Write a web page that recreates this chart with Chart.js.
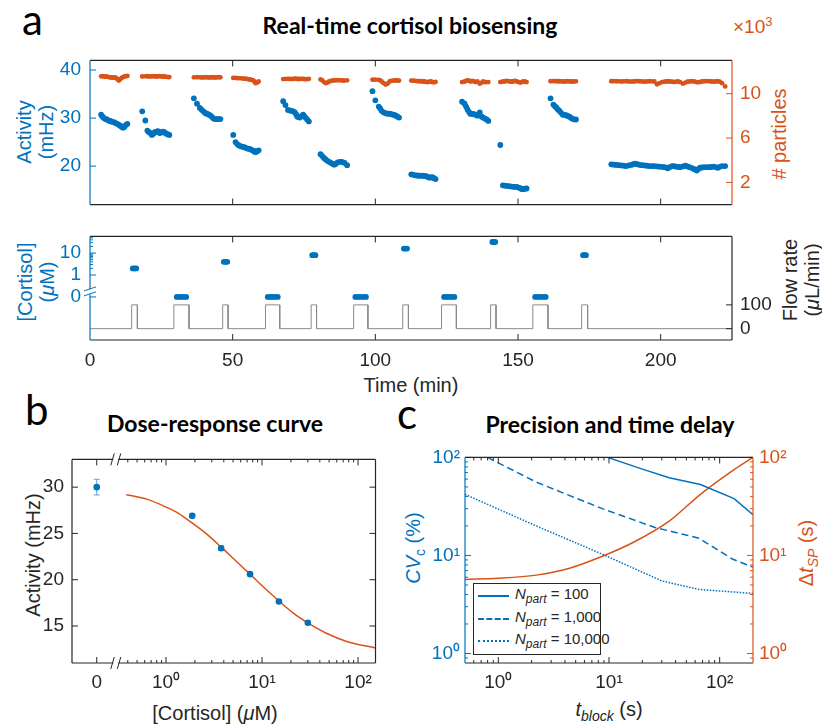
<!DOCTYPE html>
<html>
<head>
<meta charset="utf-8">
<script src="https://cdn.jsdelivr.net/npm/chart.js@4.4.1/dist/chart.umd.min.js"></script>
<style>
  body { margin: 0; background: #fff; }
  #fig { position: relative; width: 822px; height: 728px; overflow: hidden;
         font-family: "Liberation Sans", Arial, sans-serif; color: #262626; }
  canvas { position: absolute; }
  .t { position: absolute; white-space: nowrap; }
  .ttl { font-family: Lato, "Open Sans", sans-serif; font-weight: bold; font-size: 23px; color: #000;
         transform: translate(-50%, -50%); }
  .let { font-family: Lato, "Open Sans", sans-serif; font-size: 42px; color: #000; }
  .lab { font-size: 20px; text-align: center; line-height: 1.12; transform: translate(-50%, -50%); }
  .rot { transform: translate(-50%, -50%) rotate(-90deg); }
  .blue { color: #0072BD; }
  .orange { color: #D95319; }
  #leg { position: absolute; left: 473px; top: 583px; width: 126px; height: 70px; border: 1px solid #262626;
         background: #fff; font-size: 15px; color: #262626; }
  #leg .row { position: absolute; left: 0; height: 22px; width: 126px; white-space: nowrap; }
  #leg .smp { position: absolute; left: 4px; top: 10px; width: 31px; height: 0; border-top: 2px solid #0072BD; }
  #leg .txt { position: absolute; left: 41px; top: 0px; }
</style>
</head>
<body>
<div id="fig">
  <div class="t let" style="left:22px;top:-6px;">a</div>
  <div class="t let" style="left:25px;top:384px;">b</div>
  <div class="t let" style="left:397px;top:388px;">c</div>

  <div class="t ttl" style="left:410px;top:25px;">Real-time cortisol biosensing</div>
  <div class="t ttl" style="left:215px;top:423px;">Dose-response curve</div>
  <div class="t ttl" style="left:610px;top:424px;">Precision and time delay</div>

  <div class="t lab rot blue" style="left:35px;top:132px;">Activity<br>(mHz)</div>
  <div class="t lab rot orange" style="left:779px;top:134px;"># particles</div>
  <div class="t orange" style="left:733px;top:14px;font-size:19px;">×10<sup style="font-size:13px;">3</sup></div>
  <div class="t lab rot blue" style="left:36px;top:282px;">[Cortisol]<br>(<i>μ</i>M)</div>
  <div class="t lab rot" style="left:801px;top:280px;">Flow rate<br>(<i>μ</i>L/min)</div>
  <div class="t lab" style="left:411px;top:385px;">Time (min)</div>

  <div class="t lab rot" style="left:33px;top:555px;">Activity (mHz)</div>
  <div class="t lab" style="left:215px;top:713px;">[Cortisol] (<i>μ</i>M)</div>

  <div class="t lab rot blue" style="left:415px;top:548px;"><i>CV</i><sub style="font-size:14px;">c</sub> (%)</div>
  <div class="t lab rot orange" style="left:808px;top:553px;">Δ<i>t</i><sub style="font-size:14px;"><i>SP</i></sub> (s)</div>
  <div class="t lab" style="left:609px;top:711px;"><i>t</i><sub style="font-size:14px;"><i>block</i></sub> (s)</div>

  <div id="leg">
    <div class="row" style="top:1px;"><div class="smp"></div><div class="txt"><i>N</i><sub style="font-size:12px;"><i>part</i></sub> = 100</div></div>
    <div class="row" style="top:24px;"><div class="smp" style="border-top-style:dashed;"></div><div class="txt"><i>N</i><sub style="font-size:12px;"><i>part</i></sub> = 1,000</div></div>
    <div class="row" style="top:46px;"><div class="smp" style="border-top-style:dotted;"></div><div class="txt"><i>N</i><sub style="font-size:12px;"><i>part</i></sub> = 10,000</div></div>
  </div>
</div>

<script>
// ---- panel a: activity and particle count per measurement (time in min)
const actTime = [
  3.9, 4.4, 4.9, 5.4, 5.9, 6.5, 7.0, 7.5, 8.0, 8.6, 9.1, 9.6, 10.1, 10.6, 11.1, 11.6, 12.1, 12.6, 13.1,
  18.3, 19.4, 20.1, 20.6, 21.1, 21.7, 22.3, 22.8, 23.3, 23.8, 24.4, 24.9, 25.4, 25.9, 26.4, 26.9, 27.4, 27.8,
  36.4, 37.5, 38.5, 39.2, 39.9, 40.5, 41.0, 41.7, 42.3, 42.8, 43.3, 43.9, 44.5, 45.1, 45.7,
  50.2, 51.0, 51.6, 52.2, 53.0, 53.7, 54.3, 54.9, 55.5, 56.0, 56.6, 57.2, 57.6, 58.0, 58.6, 59.1,
  67.7, 68.5, 69.4, 70.0, 70.6, 71.2, 71.8, 72.3, 72.7, 73.1, 73.5, 74.1, 74.7, 75.1, 75.5, 76.1, 76.7,
  80.8, 81.4, 82.0, 82.6, 83.2, 83.8, 84.4, 85.0, 85.6, 86.2, 86.8, 87.5, 88.2, 88.7, 89.2, 90.1,
  99.0, 100.0, 101.2, 101.7, 102.2, 102.9, 103.6, 104.3, 105.0, 105.6, 106.3, 106.8, 107.2, 107.8, 108.3,
  112.6, 113.3, 114.0, 114.6, 115.2, 115.9, 116.6, 117.2, 117.8, 118.4, 119.0, 119.5, 120.0, 120.6, 121.1,
  130.4, 131.3, 131.8, 132.3, 132.8, 133.3, 134.0, 134.6, 135.2, 135.8, 136.6, 137.3, 137.8, 138.4, 139.0, 139.6,
  143.8, 144.7, 145.3, 145.9, 146.6, 147.3, 147.9, 148.5, 149.0, 149.6, 150.2, 150.8, 151.3, 151.8, 152.4, 153.0,
  161.4, 162.4, 162.9, 163.4, 164.0, 164.5, 165.1, 165.7, 166.3, 166.8, 167.4, 168.0, 168.5, 168.9, 169.6, 170.3,
  182.7, 183.5, 184.4, 185.3, 186.2, 187.0, 187.9, 188.8, 189.7, 190.4, 191.1, 191.9, 192.6, 193.5, 194.3, 195.2,
  196.1, 197.0, 197.8, 198.7, 199.6, 200.5, 201.3, 202.0, 202.5, 203.2, 204.0, 204.7, 205.4, 206.1, 206.8, 207.8,
  208.7, 209.4, 210.1, 211.0, 211.8, 212.6, 213.2, 213.8, 214.5, 215.3, 216.2, 217.1, 217.8, 218.5, 219.2, 220.0,
  220.7, 221.5, 222.6
];
const activity = [
  30.7, 30.3, 30.0, 29.8, 29.7, 29.5, 29.4, 29.3, 29.2, 29.1, 28.9, 28.8, 28.6, 28.4, 28.2, 28.0, 28.2, 28.6, 28.8,
  31.4, 29.5, 27.4, 27.1, 26.9, 26.5, 26.8, 27.1, 27.2, 27.3, 26.9, 27.0, 27.2, 27.1, 26.9, 26.7, 26.6, 26.5,
  34.1, 33.0, 32.1, 31.7, 31.3, 31.0, 30.9, 30.7, 30.5, 30.2, 29.9, 29.8, 29.8, 29.8, 29.8,
  26.5, 25.0, 24.6, 24.3, 24.1, 24.0, 23.9, 23.7, 23.6, 23.6, 23.4, 23.2, 23.1, 22.9, 23.1, 23.3,
  33.5, 32.7, 31.7, 31.6, 31.5, 31.4, 31.2, 30.7, 30.3, 30.2, 30.1, 30.4, 30.7, 30.4, 30.1, 29.7, 29.3,
  22.5, 22.1, 21.7, 21.4, 21.1, 20.9, 20.7, 20.5, 20.3, 20.5, 20.8, 20.9, 20.9, 20.8, 20.7, 20.2,
  35.6, 33.7, 32.4, 32.0, 31.5, 31.2, 31.0, 30.9, 30.9, 30.8, 30.7, 30.6, 30.5, 30.3, 30.1,
  18.3, 18.2, 18.1, 18.05, 18.0, 18.0, 18.0, 17.95, 17.9, 17.75, 17.6, 17.65, 17.7, 17.5, 17.3,
  33.4, 33.0, 32.4, 31.8, 31.3, 30.9, 30.85, 30.8, 30.7, 30.5, 31.2, 30.3, 30.1, 29.9, 29.7, 29.4,
  24.4, 16.0, 15.95, 15.9, 15.85, 15.8, 15.75, 15.7, 15.7, 15.7, 15.55, 15.4, 15.25, 15.2, 15.3, 15.35,
  34.1, 32.8, 32.5, 32.2, 31.8, 31.5, 31.1, 30.7, 30.65, 30.6, 30.45, 30.3, 30.1, 29.9, 29.75, 29.7,
  20.37, 20.3, 20.25, 20.2, 20.14, 20.1, 20.02, 20.15, 20.25, 20.4, 20.54, 20.4, 20.25, 20.2, 20.14, 20.08,
  20.02, 20.02, 20.02, 19.95, 19.9, 19.85, 19.79, 19.7, 19.55, 19.8, 20.02, 20.0, 19.9, 19.85, 19.79, 19.95,
  20.1, 19.95, 19.79, 19.6, 19.37, 19.08, 19.4, 19.67, 19.72, 19.79, 19.79, 19.79, 19.85, 19.9, 19.8, 19.67,
  19.85, 20.02, 20.02
];
// particle count in thousands
const particlesK = [
  11.56, 11.58, 11.55, 11.52, 11.55, 11.50, 11.47, 11.45, 11.44, 11.46, 11.42, 11.30, 11.18, 11.30, 11.42, 11.50, 11.55, 11.58, 11.60,
  11.55, 11.56, 11.57, 11.56, 11.55, 11.56, 11.57, 11.56, 11.55, 11.56, 11.57, 11.56, 11.55, 11.55, 11.54, 11.52, 11.50, 11.50,
  11.47, 11.48, 11.47, 11.46, 11.47, 11.48, 11.47, 11.46, 11.47, 11.48, 11.47, 11.46, 11.47, 11.48, 11.47,
  11.42, 11.42, 11.40, 11.40, 11.38, 11.36, 11.35, 11.33, 11.30, 11.28, 11.25, 11.20, 11.10, 10.95, 11.00, 11.10,
  11.32, 11.33, 11.34, 11.33, 11.32, 11.34, 11.35, 11.34, 11.33, 11.32, 11.33, 11.34, 11.33, 11.32, 11.31, 11.32, 11.33,
  11.28, 11.20, 11.05, 10.95, 11.00, 11.10, 11.15, 11.18, 11.20, 11.20, 11.22, 11.20, 11.20, 11.18, 11.18, 11.20,
  11.26, 11.26, 11.24, 11.20, 11.10, 10.95, 10.82, 10.90, 11.10, 11.15, 11.18, 11.20, 11.20, 11.18, 11.18,
  11.18, 11.18, 11.16, 11.14, 11.12, 11.12, 11.10, 11.10, 11.06, 11.04, 11.08, 11.10, 11.04, 11.02, 11.06,
  11.05, 11.10, 11.15, 11.20, 11.18, 11.10, 11.15, 11.10, 11.05, 11.10, 10.90, 11.00, 11.10, 11.05, 11.05, 11.05,
  11.05, 11.10, 11.10, 11.15, 11.12, 11.10, 11.08, 11.12, 11.15, 11.10, 11.05, 11.00, 11.05, 11.10, 11.10, 11.05,
  11.12, 11.13, 11.14, 11.13, 11.12, 11.12, 11.11, 11.10, 11.10, 11.11, 11.12, 11.11, 11.10, 11.09, 11.10, 11.11,
  11.12, 11.13, 11.12, 11.11, 11.10, 11.11, 11.12, 11.10, 11.09, 11.10, 11.12, 11.13, 11.12, 11.10, 11.08, 11.10,
  11.12, 11.11, 11.10, 10.85, 10.95, 11.05, 11.08, 11.10, 11.12, 11.10, 11.08, 11.05, 11.08, 11.10, 11.05, 10.90,
  11.00, 11.08, 11.10, 11.12, 11.10, 11.05, 11.02, 11.06, 11.10, 11.12, 11.13, 11.12, 11.10, 11.08, 11.10, 11.12,
  11.08, 10.95, 10.65
];

// injected cortisol (uM) at sample times; 0 = buffer
const doseTime = [
  15.0, 15.6, 16.2, 30.4, 31.2, 32.0, 32.8, 33.7, 46.9, 47.5, 48.1, 62.3, 63.2, 64.0, 64.9, 65.8,
  77.9, 78.4, 79.0, 93.0, 93.9, 94.8, 95.8, 96.7, 110.0, 110.5, 111.1, 124.1, 125.0, 125.9, 126.8, 127.7,
  141.0, 141.4, 142.0, 156.0, 156.9, 157.8, 158.8, 159.7, 172.8, 173.3, 173.8
];
const doseConc = [
  2, 2, 2, 0, 0, 0, 0, 0, 4, 4, 4, 0, 0, 0, 0, 0,
  8, 8, 8, 0, 0, 0, 0, 0, 16, 16, 16, 0, 0, 0, 0, 0,
  32, 32, 32, 0, 0, 0, 0, 0, 8, 8, 8
];
// flow pulses (100 uL/min between start and end)
const pulseStart = [14.6, 29.4, 46.5, 61.5, 77.5, 92.4, 109.6, 123.2, 140.4, 155.2, 172.3];
const pulseEnd   = [16.6, 34.7, 48.4, 66.5, 79.4, 97.4, 111.6, 128.4, 142.3, 160.5, 174.4];
const flowHigh = 100;

// ---- panel b
const calConc = [0, 1.875, 3.75, 7.5, 15, 30];
const calAct  = [30.0, 26.9, 23.4, 20.6, 17.65, 15.35];
const calErr  = [0.85, 0.2, 0.25, 0.15, 0.2, 0.12];
const fitConc = [0.386, 0.64, 0.975, 1.36, 1.83, 2.68, 3.69, 5.25, 7.4, 10.7, 15.0, 21.0, 30.0, 46.8, 77.6, 152];
const fitAct  = [29.19, 28.68, 27.9, 27.15, 26.2, 24.9, 23.6, 22.1, 20.66, 19.07, 17.71, 16.42, 15.34, 14.22, 13.3, 12.62];

// ---- panel c
const tSolid  = [9.7, 20, 35, 67, 135, 200];
const cvSolid = [100, 76, 62, 53, 38, 26];
const tDashed  = [0.8, 2.2, 8.7, 26, 65, 130, 200];
const cvDashed = [100, 56, 30, 19.3, 15, 9.2, 7.6];
const tDotted  = [0.5, 2.2, 8.7, 30, 65, 200];
const cvDotted = [42, 20, 10.3, 5.5, 4.5, 4.1];
const tDelay = [0.5, 1, 2.2, 4.4, 8.7, 17, 35, 67, 135, 200];
const delaySP = [5.7, 5.85, 6.3, 7.4, 9.8, 13.8, 22.4, 42, 75, 100];

const BLUE = '#0072BD', ORANGE = '#D95319', INK = '#262626', GRAY = '#8a8a8a', ERR = '#5AA7E0';
const FONT = { family: '"Liberation Sans", Arial, sans-serif', size: 19 };
const ZERO_A = 0.1;   // where "0" sits on the broken log axis of panel a
const ZERO_B = 0.19;  // where "0" sits on the broken log axis of panel b
const SUP = { '-1': '⁻¹', 0: '⁰', 1: '¹', 2: '²' };
const pow10 = v => '10' + SUP[Math.round(Math.log10(v))];
const pts = (xs, ys) => xs.map((x, i) => ({ x: x, y: ys[i] }));

function mk(left, top, w, h) {
  const c = document.createElement('canvas');
  c.width = w; c.height = h;
  c.style.left = left + 'px'; c.style.top = top + 'px';
  document.getElementById('fig').appendChild(c);
  return c;
}

function axis(o) {
  return {
    type: o.type || 'linear', position: o.pos, min: o.min, max: o.max,
    grid: { display: false, drawTicks: false }, border: { display: false },
    ticks: {
      display: o.labels !== false, color: o.color || INK, font: o.font || FONT, padding: o.pad || 8,
      autoSkip: false, maxRotation: 0, minRotation: 0,
      callback: v => (o.fmt ? o.fmt(v) : String(v))
    },
    afterBuildTicks: s => { s.ticks = (o.at || []).map(v => ({ value: v })); },
    afterFit: s => { if (o.w != null) s.width = o.w; if (o.h != null) s.height = o.h; }
  };
}

function opts(pT, scales) {
  return {
    responsive: false, animation: false, events: [],
    layout: { padding: { top: pT, left: 0, right: 0, bottom: 0 } },
    plugins: { legend: { display: false }, tooltip: { enabled: false } },
    scales: scales
  };
}

// inward tick marks, box, axis breaks and error bars
function frame(cfg) {
  return {
    id: 'frame',
    beforeDatasetsDraw(chart) {
      const e = cfg.err;
      if (!e) return;
      const c = chart.ctx, xs = chart.scales.x, ys = chart.scales.y;
      c.save(); c.strokeStyle = e.color; c.lineWidth = 1;
      e.x.forEach((xv, i) => {
        const px = xs.getPixelForValue(xv);
        const p1 = ys.getPixelForValue(e.y[i] - e.d[i]), p2 = ys.getPixelForValue(e.y[i] + e.d[i]);
        c.beginPath();
        c.moveTo(px, p1); c.lineTo(px, p2);
        c.moveTo(px - e.cap, p1); c.lineTo(px + e.cap, p1);
        c.moveTo(px - e.cap, p2); c.lineTo(px + e.cap, p2);
        c.stroke();
      });
      c.restore();
    },
    afterDraw(chart) {
      const c = chart.ctx, a = chart.chartArea;
      c.save();
      c.lineWidth = 1;
      (cfg.ticks || []).forEach(t => {
        const sc = chart.scales[t.axis];
        c.strokeStyle = t.color;
        c.beginPath();
        const mark = (v, len) => {
          const p = sc.getPixelForValue(v);
          t.edges.forEach(ed => {
            if (ed === 'bottom') { c.moveTo(p, a.bottom); c.lineTo(p, a.bottom - len); }
            if (ed === 'top') { c.moveTo(p, a.top); c.lineTo(p, a.top + len); }
            if (ed === 'left') { c.moveTo(a.left, p); c.lineTo(a.left + len, p); }
            if (ed === 'right') { c.moveTo(a.right, p); c.lineTo(a.right - len, p); }
          });
        };
        t.at.forEach(v => mark(v, t.len || 6));
        (t.minor || []).forEach(v => mark(v, t.mlen || 3));
        c.stroke();
      });
      const S = cfg.sides;
      const seg = (x1, y1, x2, y2, col) => { c.strokeStyle = col; c.beginPath(); c.moveTo(x1, y1); c.lineTo(x2, y2); c.stroke(); };
      c.lineWidth = 1.2;
      seg(a.left, a.top, a.right, a.top, S.top);
      seg(a.left, a.bottom, a.right, a.bottom, S.bottom);
      seg(a.left, a.top, a.left, a.bottom, S.left);
      seg(a.right, a.top, a.right, a.bottom, S.right);
      (cfg.breaks || []).forEach(b => {
        const p = chart.scales[b.axis].getPixelForValue(b.at);
        c.lineWidth = 1;
        b.edges.forEach(ed => {
          c.fillStyle = '#fff';
          c.strokeStyle = b.color;
          c.beginPath();
          if (ed === 'top' || ed === 'bottom') {
            const y = ed === 'top' ? a.top : a.bottom;
            c.fillRect(p - 2.5, y - 2, 5, 4);
            c.moveTo(p - 5, y + 6); c.lineTo(p - 1.5, y - 6);
            c.moveTo(p + 1.5, y + 6); c.lineTo(p + 5, y - 6);
          } else {
            const x = a.left;
            c.fillRect(x - 2, p - 2.5, 4, 5);
            c.moveTo(x - 6, p - 1); c.lineTo(x + 6, p - 5);
            c.moveTo(x - 6, p + 4); c.lineTo(x + 6, p);
          }
          c.stroke();
        });
      });
      c.restore();
    }
  };
}

const minorLog = (lo, hi) => {
  const out = [];
  for (let d = -2; d <= 2; d++) for (let m = 2; m <= 9; m++) {
    const v = m * Math.pow(10, d);
    if (v > lo && v < hi) out.push(v);
  }
  return out;
};

// ---- panel a, top
new Chart(mk(30, 40, 752, 185), {
  type: 'scatter',
  data: { datasets: [
    { data: pts(actTime, activity), yAxisID: 'y', backgroundColor: BLUE, borderWidth: 0, pointRadius: 2.9 },
    { data: pts(actTime, particlesK), yAxisID: 'y2', backgroundColor: ORANGE, borderWidth: 0, pointRadius: 2.4 }
  ] },
  options: opts(8, {
    x: axis({ pos: 'bottom', min: 0, max: 225, labels: false, h: 6 }),
    y: axis({ pos: 'left', min: 12, max: 42, at: [20, 30, 40], color: BLUE, w: 60, pad: 9 }),
    y2: axis({ pos: 'right', min: 0, max: 13, at: [2, 6, 10], color: ORANGE, w: 50, pad: 8 })
  }),
  plugins: [frame({
    sides: { top: INK, bottom: INK, left: BLUE, right: ORANGE },
    ticks: [
      { axis: 'x', at: [50, 100, 150, 200], edges: ['top', 'bottom'], color: INK },
      { axis: 'y', at: [20, 30, 40], edges: ['left'], color: BLUE },
      { axis: 'y2', at: [2, 6, 10], edges: ['right'], color: ORANGE }
    ]
  })]
});

// ---- panel a, bottom
const flowPts = [{ x: 0, y: 0 }];
pulseStart.forEach((s, i) => {
  flowPts.push({ x: s, y: 0 }, { x: s, y: flowHigh }, { x: pulseEnd[i], y: flowHigh }, { x: pulseEnd[i], y: 0 });
});
flowPts.push({ x: 225, y: 0 });

new Chart(mk(30, 216, 752, 184), {
  type: 'scatter',
  data: { datasets: [
    { data: doseTime.map((t, i) => ({ x: t, y: doseConc[i] === 0 ? ZERO_A : doseConc[i] })), yAxisID: 'y',
      backgroundColor: BLUE, borderWidth: 0, pointRadius: 2.9 },
    { data: flowPts, yAxisID: 'y2', showLine: true, borderColor: GRAY, borderWidth: 1, pointRadius: 0 }
  ] },
  options: opts(8, {
    x: axis({ pos: 'bottom', min: 0, max: 225, at: [0, 50, 100, 150, 200], h: 60, pad: 9 }),
    y: axis({ type: 'logarithmic', pos: 'left', min: 0.00109, max: 57.5, at: [ZERO_A, 1, 10], color: BLUE,
              w: 60, pad: 9, fmt: v => (v === ZERO_A ? '0' : String(v)) }),
    y2: axis({ pos: 'right', min: -47.7, max: 388, at: [0, 100], color: INK, w: 50, pad: 8 })
  }),
  plugins: [frame({
    sides: { top: INK, bottom: INK, left: BLUE, right: INK },
    ticks: [
      { axis: 'x', at: [50, 100, 150, 200], edges: ['top', 'bottom'], color: INK },
      { axis: 'y', at: [ZERO_A, 1, 10], minor: minorLog(1, 57.5), edges: ['left'], color: BLUE },
      { axis: 'y2', at: [0, 100], edges: ['right'], color: INK }
    ],
    breaks: [{ axis: 'y', at: 0.17, edges: ['left'], color: BLUE }]
  })]
});

// ---- panel b
new Chart(mk(0, 440, 380, 288), {
  type: 'scatter',
  data: { datasets: [
    { data: calConc.map((c, i) => ({ x: c === 0 ? ZERO_B : c, y: calAct[i] })), backgroundColor: BLUE,
      borderWidth: 0, pointRadius: 3.3 },
    { data: pts(fitConc, fitAct), showLine: true, borderColor: ORANGE, borderWidth: 1.5, pointRadius: 0,
      cubicInterpolationMode: 'monotone' }
  ] },
  options: opts(7, {
    x: axis({ type: 'logarithmic', pos: 'bottom', min: 0.105, max: 152, at: [ZERO_B, 1, 10, 100], h: 65, pad: 8,
              fmt: v => (v === ZERO_B ? '0' : pow10(v)) }),
    y: axis({ pos: 'left', min: 11, max: 33, at: [15, 20, 25, 30], w: 72, pad: 8 })
  }),
  plugins: [frame({
    sides: { top: INK, bottom: INK, left: INK, right: INK },
    err: { x: calConc.map(c => (c === 0 ? ZERO_B : c)), y: calAct, d: calErr, color: ERR, cap: 3 },
    ticks: [
      { axis: 'x', at: [ZERO_B, 1, 10, 100], minor: minorLog(0.35, 152), edges: ['top', 'bottom'], color: INK },
      { axis: 'y', at: [15, 20, 25, 30], edges: ['left', 'right'], color: INK }
    ],
    breaks: [{ axis: 'x', at: 0.3, edges: ['top', 'bottom'], color: INK }]
  })]
});

// ---- panel c
new Chart(mk(410, 440, 412, 288), {
  type: 'scatter',
  data: { datasets: [
    { data: pts(tSolid, cvSolid), yAxisID: 'y', showLine: true, borderColor: BLUE, borderWidth: 1.5, pointRadius: 0 },
    { data: pts(tDashed, cvDashed), yAxisID: 'y', showLine: true, borderColor: BLUE, borderWidth: 1.5, pointRadius: 0,
      borderDash: [7, 4] },
    { data: pts(tDotted, cvDotted), yAxisID: 'y', showLine: true, borderColor: BLUE, borderWidth: 1.5, pointRadius: 0,
      borderDash: [1.5, 1.5] },
    { data: pts(tDelay, delaySP), yAxisID: 'y2', showLine: true, borderColor: ORANGE, borderWidth: 1.5, pointRadius: 0,
      cubicInterpolationMode: 'monotone' }
  ] },
  options: opts(6, {
    x: axis({ type: 'logarithmic', pos: 'bottom', min: 0.5, max: 200, at: [1, 10, 100], h: 65, pad: 8, fmt: pow10 }),
    y: axis({ type: 'logarithmic', pos: 'left', min: 0.8, max: 100, at: [1, 10, 100], color: BLUE, w: 55, pad: 5,
              fmt: pow10 }),
    y2: axis({ type: 'logarithmic', pos: 'right', min: 0.8, max: 100, at: [1, 10, 100], color: ORANGE, w: 69, pad: 6,
               fmt: pow10 })
  }),
  plugins: [frame({
    sides: { top: INK, bottom: INK, left: BLUE, right: ORANGE },
    ticks: [
      { axis: 'x', at: [1, 10, 100], minor: minorLog(0.5, 200), edges: ['top', 'bottom'], color: INK },
      { axis: 'y', at: [1, 10, 100], minor: minorLog(0.8, 100), edges: ['left'], color: BLUE },
      { axis: 'y2', at: [1, 10, 100], minor: minorLog(0.8, 100), edges: ['right'], color: ORANGE }
    ]
  })]
});
</script>
</body>
</html>
